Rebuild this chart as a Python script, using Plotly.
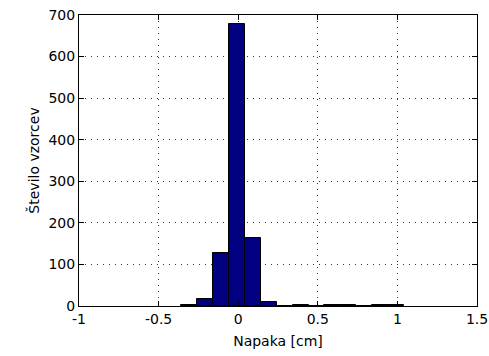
import plotly.graph_objects as go

bin_centers = [-0.31, -0.21, -0.11, -0.008, 0.092, 0.192, 0.292, 0.392, 0.492, 0.592, 0.692, 0.792, 0.892, 0.992]
counts = [2, 16, 127, 678, 164, 9, 0, 3, 0, 2, 2, 0, 2, 3]
bin_width = 0.1005

x_ticks = [-1, -0.5, 0, 0.5, 1, 1.5]
x_ticktext = ["-1", "-0.5", "0", "0.5", "1", "1.5"]
y_ticks = [0, 100, 200, 300, 400, 500, 600, 700]

font = dict(family="DejaVu Sans", size=14, color="black")

fig = go.Figure(go.Bar(
    x=bin_centers, y=counts, width=bin_width,
    marker=dict(color="rgb(0,0,128)", line=dict(color="black", width=1)),
))

axis_common = dict(
    showline=True, linecolor="black", linewidth=1, mirror="allticks",
    ticks="inside", ticklen=5, tickcolor="black",
    showgrid=True, gridcolor="rgba(0,0,0,0.8)", gridwidth=1, griddash="1px,5px",
    zeroline=False, tickfont=font, automargin=False, ticklabeloverflow="allow",
)

fig.update_xaxes(range=[-1, 1.5], tickvals=x_ticks, ticktext=x_ticktext,
                 title=dict(text="Napaka [cm]", font=font, standoff=10), **axis_common)
fig.update_yaxes(range=[0, 700], tickvals=y_ticks,
                 title=dict(text="Število vzorcev", font=font, standoff=5), **axis_common)

fig.update_layout(
    width=489, height=356,
    margin=dict(l=79, r=12, t=15, b=50),
    plot_bgcolor="white", paper_bgcolor="white",
    showlegend=False, bargap=0,
)

fig.write_html(
    "out.html",
    config={"displayModeBar": False},
    post_script="document.body.style.margin='0';document.body.style.overflow='hidden';",
)
